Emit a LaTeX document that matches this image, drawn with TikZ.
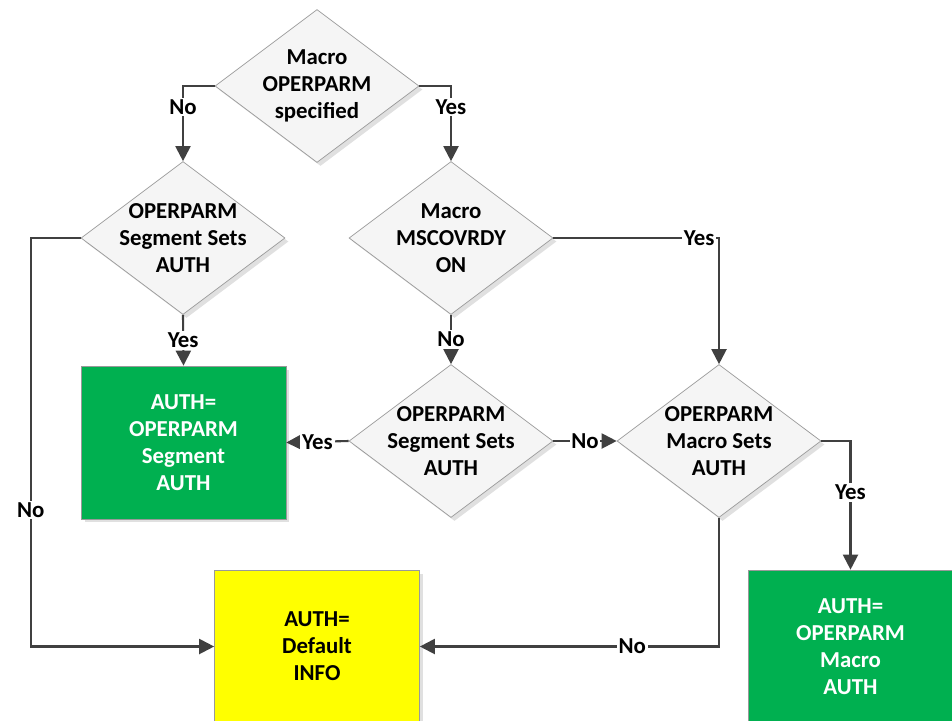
\documentclass[tikz,border=0pt]{standalone}
\usepackage{fontspec}
\setmainfont{Carlito}
\usetikzlibrary{
    shapes.geometric,
    arrows.meta,
    shadows
}

\definecolor{linegray}{HTML}{404040}
\definecolor{boxgreen}{HTML}{00B050}
\definecolor{boxyellow}{HTML}{FFFF00}

\begin{document}
\begin{tikzpicture}[x=0.02cm, y=-0.02cm, font=\fontsize{13}{15.3}\selectfont\bfseries,
    flow/.style={draw=linegray, line width=1.2pt, -{Triangle[length=0.3cm, width=0.3cm]}},
    tag/.style={fill=white, inner sep=1pt, text=black}]
    \tikzstyle{decision}=[diamond, draw=gray!80, fill=gray!8, minimum width=4.08cm, minimum height=3.06cm, inner sep=0pt,
        drop shadow={shadow xshift=0.07cm, shadow yshift=-0.07cm, fill=black!12, opacity=1}]
    \tikzstyle{outcome}=[rectangle, draw=gray!80, minimum width=4.1cm, minimum height=3.06cm, align=center,
        drop shadow={shadow xshift=0.07cm, shadow yshift=-0.07cm, fill=black!12, opacity=1}]

    \useasboundingbox (0,0) rectangle (952,720);

    % decisions
    \node[decision, label={[align=center]center:Macro\\OPERPARM\\specified}] (macro) at (317,86) {};
    \node[decision, label={[align=center]center:OPERPARM\\Segment Sets\\AUTH}] (segL) at (183,238) {};
    \node[decision, label={[align=center]center:Macro\\MSCOVRDY\\ON}] (mscov) at (451,238) {};
    \node[decision, label={[align=center]center:OPERPARM\\Segment Sets\\AUTH}] (segM) at (451,441) {};
    \node[decision, label={[align=center]center:OPERPARM\\Macro Sets\\AUTH}] (macSets) at (719,441) {};

    % results
    \node[outcome, fill=boxgreen, text=white] (authSeg) at (183.5,442.5) {AUTH=\\OPERPARM\\Segment\\AUTH};
    \node[outcome, fill=boxyellow] (authDef) at (317,646.5) {AUTH=\\Default\\INFO};
    \node[outcome, fill=boxgreen, text=white] (authMac) at (850.5,646.5) {AUTH=\\OPERPARM\\Macro\\AUTH};

    % connectors
    \draw[flow] (macro.west) -| node[tag, pos=0.64] (t1) {No} (segL.north);
    \draw[flow] (macro.east) -| node[tag, pos=0.64] (t2) {Yes} (mscov.north);
    \draw[flow] (segL.south) -- node[tag] (t3) {Yes} (authSeg.north);
    \draw[flow] (segL.west) -- ++(-50,0) |- node[tag, pos=0.333] (t4) {No} (authDef.west);
    \draw[flow] (mscov.south) -- node[tag] (t5) {No} (segM.north);
    \draw[flow] (mscov.east) -| node[tag, pos=0.44] (t6) {Yes} (macSets.north);
    \draw[flow] (segM.west) -- node[tag] (t7) {Yes} (authSeg.east);
    \draw[flow] (segM.east) -- node[tag] (t8) {No} (macSets.west);
    \draw[flow] (macSets.east) -| node[tag, pos=0.7] (t9) {Yes} (authMac.north);
    \draw[flow] (macSets.south) |- node[tag, pos=0.645] (t10) {No} (authDef.east);
\end{tikzpicture}
\end{document}
